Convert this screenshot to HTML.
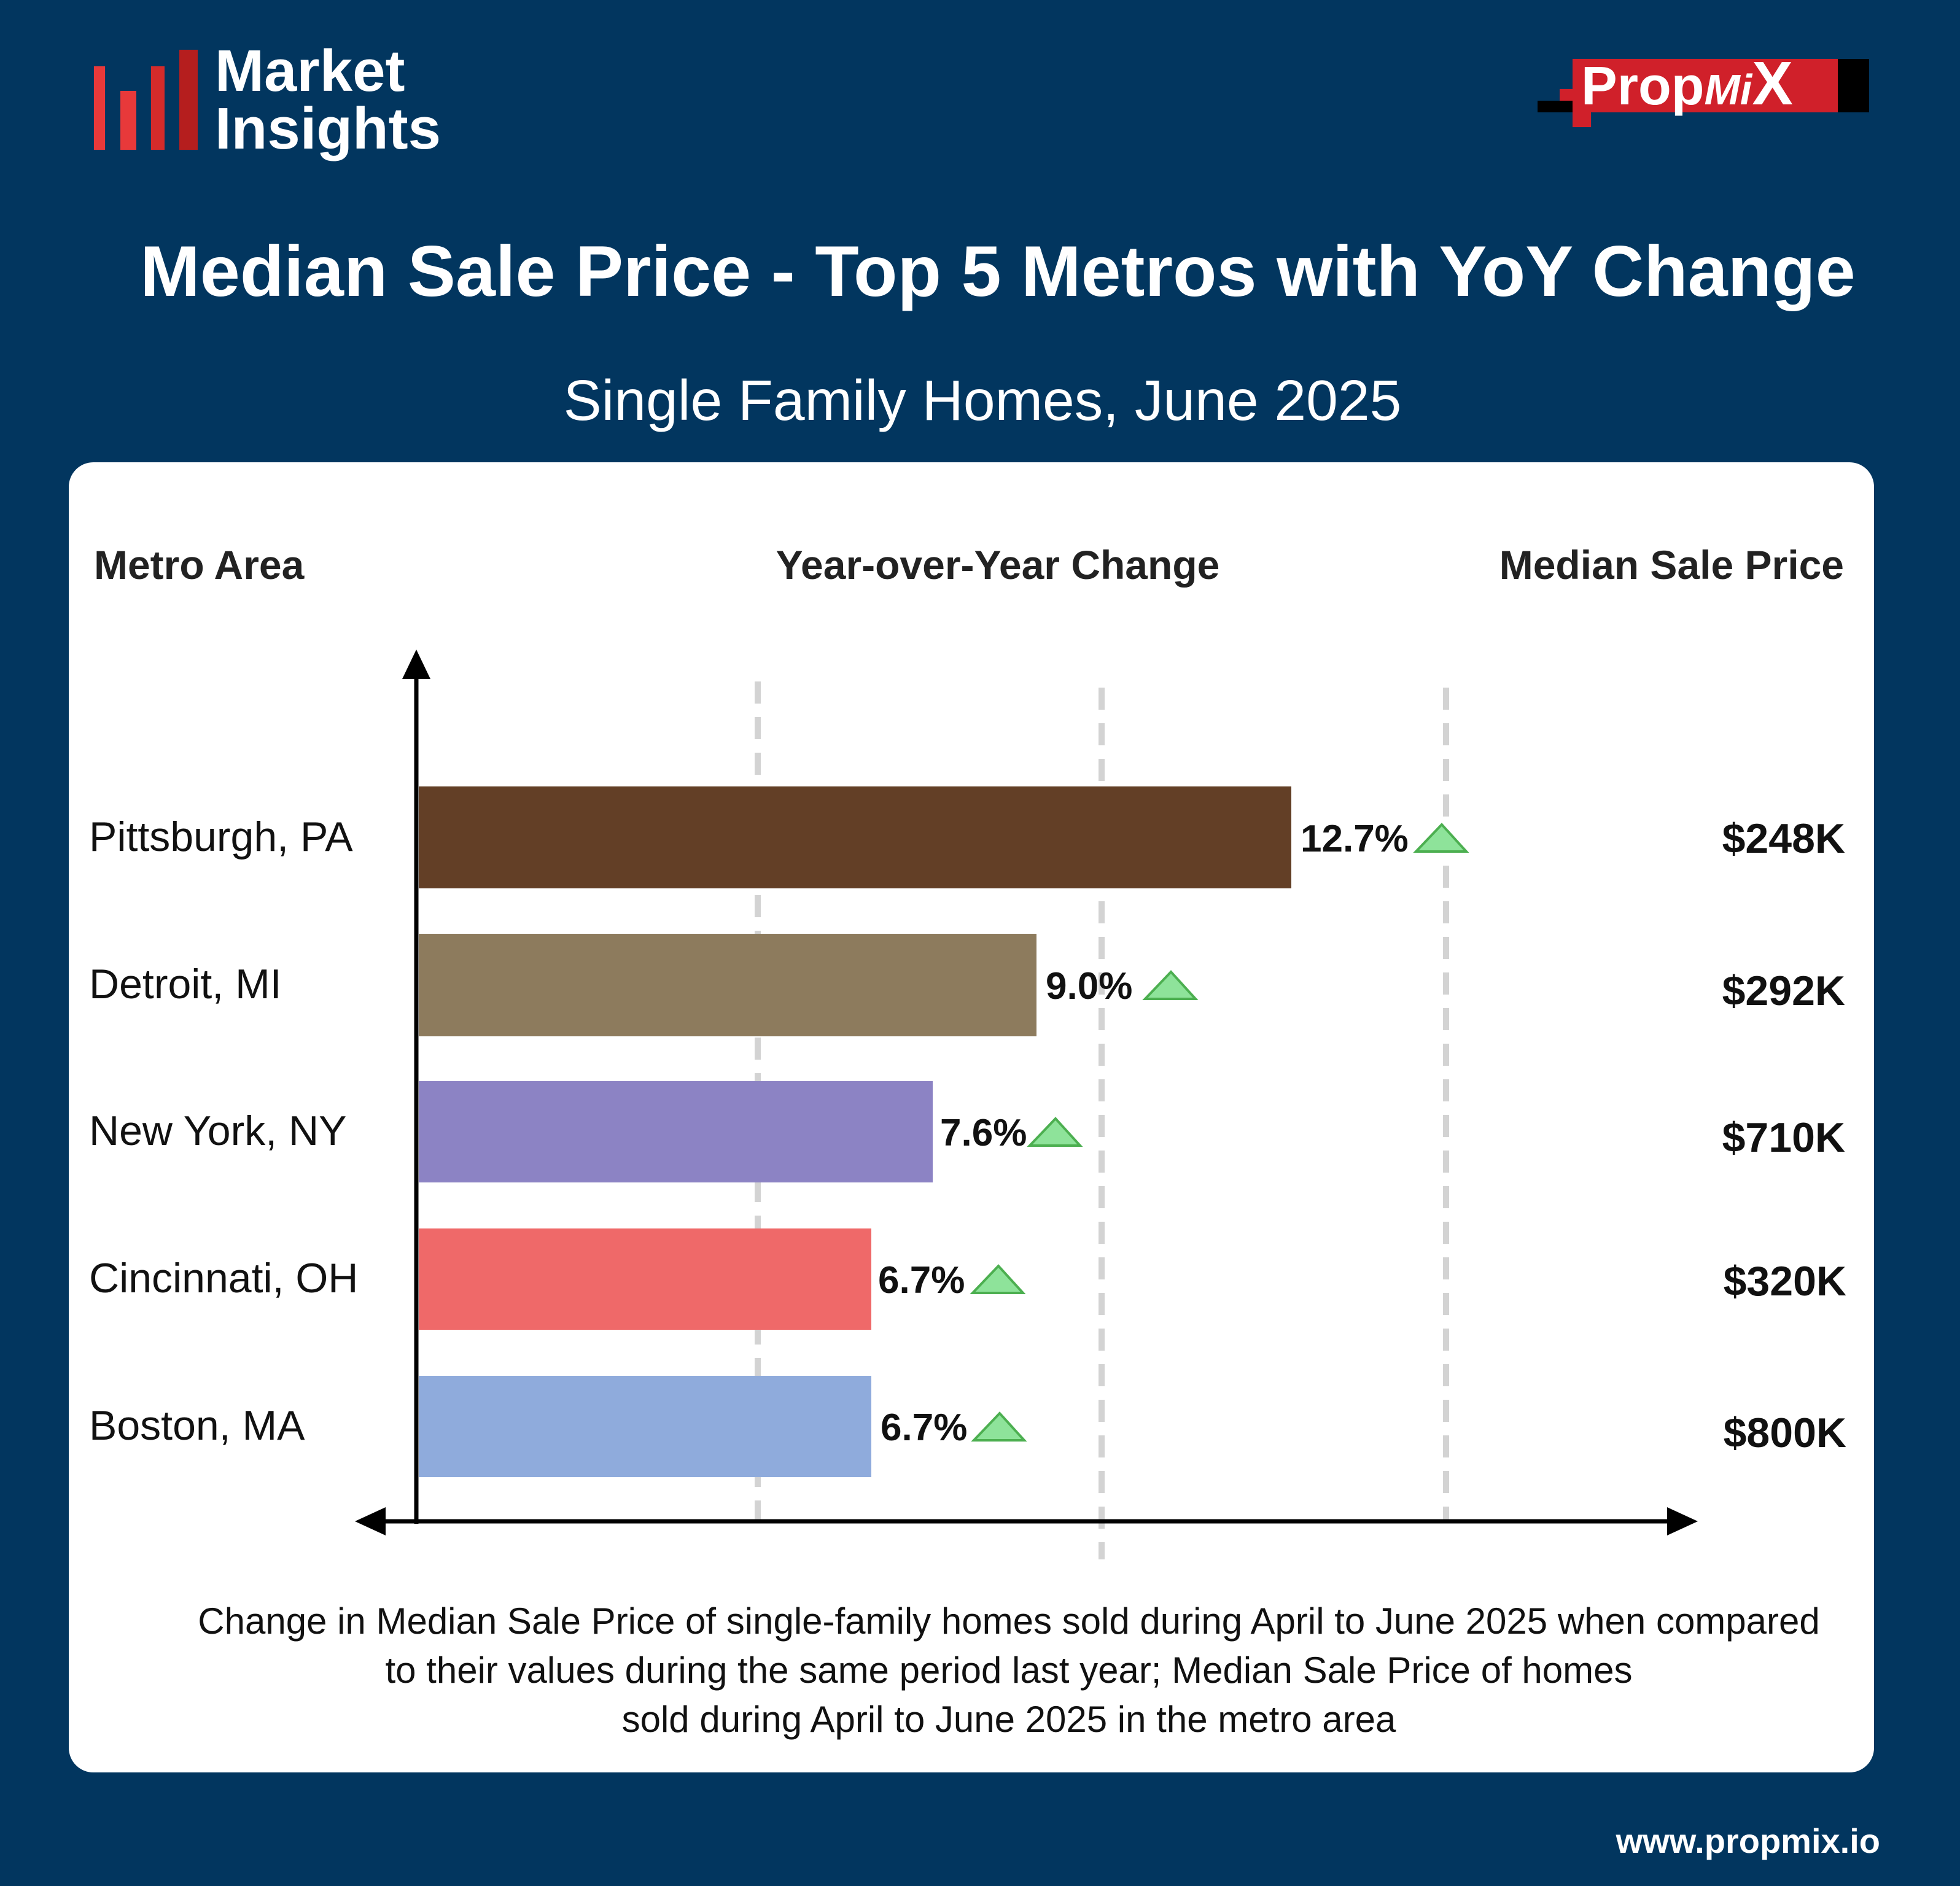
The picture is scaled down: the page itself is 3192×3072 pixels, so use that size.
<!DOCTYPE html>
<html><head><meta charset="utf-8"><style>
html,body{margin:0;padding:0;background:#02365F;}
svg{display:block;}
text{font-family:"Liberation Sans",Arial,sans-serif;}
</style></head><body>
<svg width="3192" height="3072" viewBox="0 0 3192 3072" xmlns="http://www.w3.org/2000/svg">
<rect width="3192" height="3072" fill="#02365F"/>
<!-- Market Insights logo -->
<rect x="153" y="108" width="18" height="136" fill="#E8393A"/>
<rect x="196" y="148" width="26" height="96" fill="#E8393A"/>
<rect x="246" y="108" width="22" height="136" fill="#D42B2B"/>
<rect x="292" y="81" width="30" height="163" fill="#B51E1E"/>
<text x="350" y="148" font-size="96" fill="#fff" font-weight="bold">Market</text>
<text x="350" y="242" font-size="96" fill="#fff" font-weight="bold">Insights</text>
<!-- PropMix logo -->
<rect x="2561" y="96" width="483" height="87" fill="#000"/>
<rect x="2561" y="96" width="432" height="87" fill="#D0202A"/>
<rect x="2504" y="164" width="57" height="19" fill="#000"/>
<rect x="2540" y="145" width="21" height="19" fill="#D0202A"/>
<rect x="2561" y="183" width="30" height="24" fill="#D0202A"/>
<text x="2575" y="170" font-size="88" fill="#fff" font-weight="bold">Prop<tspan font-style="italic" font-size="70">Mi</tspan><tspan font-size="100">X</tspan></text>
<!-- Titles -->
<text x="1625" y="482" font-size="117" fill="#fff" font-weight="bold" text-anchor="middle">Median Sale Price - Top 5 Metros with YoY Change</text>
<text x="1600" y="684" font-size="93" fill="#fff" text-anchor="middle">Single Family Homes, June 2025</text>
<!-- Card -->
<rect x="112" y="753" width="2940" height="2134" rx="40" fill="#fff"/>
<text x="153" y="943" font-size="66" font-weight="bold" fill="#222">Metro Area</text>
<text x="1625" y="943" font-size="66" font-weight="bold" fill="#222" text-anchor="middle">Year-over-Year Change</text>
<text x="3003" y="943" font-size="66" font-weight="bold" fill="#222" text-anchor="end">Median Sale Price</text>
<!-- dashed gridlines -->
<g stroke="#D3D3D3" stroke-width="10" stroke-dasharray="36 22">
<line x1="1234" y1="1110" x2="1234" y2="2478"/>
<line x1="1794" y1="1120" x2="1794" y2="2540"/>
<line x1="2355" y1="1120" x2="2355" y2="2478"/>
</g>
<!-- bars -->
<rect x="682" y="1281" width="1421" height="166" fill="#633F26"/>
<rect x="682" y="1521" width="1006" height="167" fill="#8D7B5D"/>
<rect x="682" y="1761" width="837" height="165" fill="#8C83C4"/>
<rect x="682" y="2001" width="737" height="165" fill="#EF6969"/>
<rect x="682" y="2241" width="737" height="165" fill="#8FABDC"/>
<!-- axes -->
<line x1="678" y1="1090" x2="678" y2="2482" stroke="#000" stroke-width="7"/>
<polygon points="678,1058 655,1106 701,1106" fill="#000"/>
<line x1="620" y1="2478" x2="2720" y2="2478" stroke="#000" stroke-width="7"/>
<polygon points="578,2478 628,2455 628,2501" fill="#000"/>
<polygon points="2765,2478 2715,2455 2715,2501" fill="#000"/>
<!-- metro names -->
<g font-size="68" fill="#111">
<text x="145" y="1386">Pittsburgh, PA</text>
<text x="145" y="1626">Detroit, MI</text>
<text x="145" y="1865">New York, NY</text>
<text x="145" y="2105">Cincinnati, OH</text>
<text x="145" y="2345">Boston, MA</text>
</g>
<!-- value labels -->
<g font-size="62" font-weight="bold" fill="#111">
<text x="2118" y="1387">12.7%</text>
<text x="1703" y="1627">9.0%</text>
<text x="1531" y="1866">7.6%</text>
<text x="1430" y="2106">6.7%</text>
<text x="1434" y="2346">6.7%</text>
</g>
<g fill="#8EE39A" stroke="#4CAF50" stroke-width="4">
<polygon points="2348,1343 2306,1387 2388,1387"/>
<polygon points="1907,1583 1865,1627 1947,1627"/>
<polygon points="1719,1822 1677,1866 1759,1866"/>
<polygon points="1626,2062 1584,2106 1666,2106"/>
<polygon points="1628,2302 1586,2346 1668,2346"/>
</g>
<!-- prices -->
<g font-size="68" font-weight="bold" fill="#111" text-anchor="end">
<text x="3005" y="1389">$248K</text>
<text x="3005" y="1637">$292K</text>
<text x="3005" y="1876">$710K</text>
<text x="3007" y="2110">$320K</text>
<text x="3007" y="2357">$800K</text>
</g>
<!-- footer -->
<g font-size="60" fill="#111" text-anchor="middle">
<text x="1643" y="2661">Change in Median Sale Price of single-family homes sold during April to June 2025 when compared</text>
<text x="1643" y="2741">to their values during the same period last year; Median Sale Price of homes</text>
<text x="1643" y="2821">sold during April to June 2025 in the metro area</text>
</g>
<text x="3062" y="3018" font-size="56" font-weight="bold" fill="#fff" text-anchor="end">www.propmix.io</text>
</svg>
</body></html>
